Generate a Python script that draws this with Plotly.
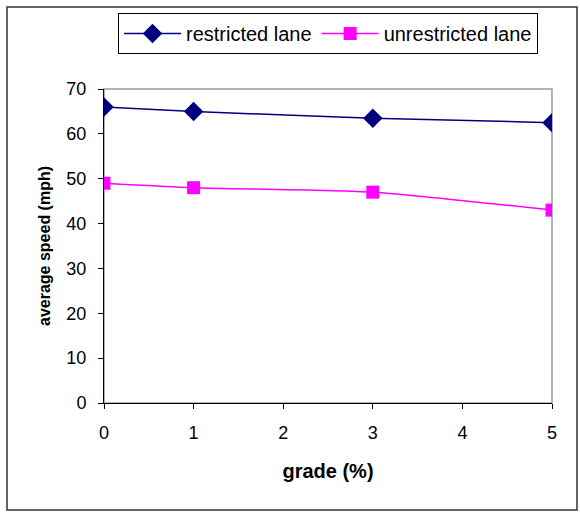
import plotly.graph_objects as go

grade = [0, 1, 3, 5]
restricted = [66, 65, 63.5, 62.5]
unrestricted = [49, 48, 47, 43]

W, H = 580, 513
L, R, T, B = 104, 28, 89, 110
pw, ph = W - L - R, H - T - B

def px2x(p):
    return (p - L) / pw

def px2y(p):
    return (H - B - p) / ph

font = "Liberation Sans, Arial, sans-serif"

fig = go.Figure()
fig.add_trace(go.Scatter(
    x=grade, y=restricted, name="restricted lane", mode="lines+markers",
    line=dict(color="#000080", width=1.5, shape="spline", smoothing=0.6),
    marker=dict(symbol="diamond", size=15, color="#000080"),
))
fig.add_trace(go.Scatter(
    x=grade, y=unrestricted, name="unrestricted lane", mode="lines+markers",
    line=dict(color="#FF00FF", width=1.5, shape="spline", smoothing=0.6),
    marker=dict(symbol="square", size=13, color="#FF00FF"),
))

fig.update_layout(
    width=W, height=H,
    margin=dict(l=L, r=R, t=T, b=B, pad=0),
    paper_bgcolor="white", plot_bgcolor="white",
    font=dict(family=font, size=18, color="black"),
    showlegend=True,
    legend=dict(
        orientation="h", x=px2x(328), xanchor="center", y=px2y(13), yanchor="top",
        bordercolor="black", borderwidth=1, bgcolor="white",
        font=dict(size=20), itemwidth=57, tracegroupgap=0,
    ),
    xaxis=dict(
        range=[0, 5], dtick=1, showgrid=False, zeroline=False,
        showline=True, linecolor="black", linewidth=1,
        ticks="outside", ticklen=5, tickcolor="black",
        tickfont=dict(size=18), ticklabelstandoff=8,
        title=dict(text="<b>grade (%)</b>", font=dict(size=20), standoff=22),
    ),
    yaxis=dict(
        range=[0, 70], dtick=10, showgrid=False, zeroline=False,
        showline=True, linecolor="black", linewidth=1,
        ticks="outside", ticklen=5, tickcolor="black",
        tickfont=dict(size=18), ticklabelstandoff=8,
        title=dict(text="<b>average speed (mph)</b>", font=dict(size=16), standoff=11),
    ),
    shapes=[
        dict(type="rect", xref="paper", yref="paper", x0=0, x1=1, y0=0, y1=1,
             line=dict(color="#999999", width=1.5), layer="below"),
        dict(type="rect", xref="paper", yref="paper",
             x0=px2x(7), x1=px2x(577), y0=px2y(510), y1=px2y(7),
             line=dict(color="#333333", width=1.5)),
    ],
)

fig.write_html("out.html")
